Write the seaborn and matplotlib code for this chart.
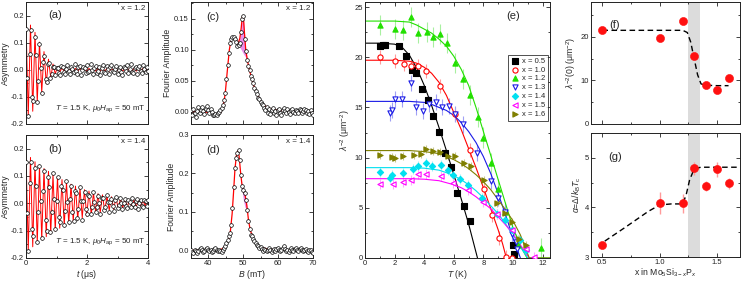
import numpy as np
import pandas as pd
import matplotlib
matplotlib.use("Agg")
import matplotlib.pyplot as plt
from matplotlib.ticker import MultipleLocator, FormatStrFormatter
import seaborn as sns

# ---------------- data: (a),(b) muSR time spectra ----------------
t_us = [0.00, 0.04, 0.08, 0.12, 0.16, 0.20, 0.24, 0.28, 0.32, 0.36, 0.40, 0.44, 0.48, 0.52, 0.56,
        0.60, 0.64, 0.68, 0.72, 0.76, 0.80, 0.84, 0.88, 0.92, 0.96, 1.00, 1.04, 1.08, 1.12, 1.16,
        1.20, 1.24, 1.28, 1.32, 1.36, 1.40, 1.44, 1.48, 1.52, 1.56, 1.60, 1.64, 1.68, 1.72, 1.76,
        1.80, 1.84, 1.88, 1.92, 1.96, 2.00, 2.04, 2.08, 2.12, 2.16, 2.20, 2.24, 2.28, 2.32, 2.36,
        2.40, 2.44, 2.48, 2.52, 2.56, 2.60, 2.64, 2.68, 2.72, 2.76, 2.80, 2.84, 2.88, 2.92, 2.96,
        3.00, 3.04, 3.08, 3.12, 3.16, 3.20, 3.24, 3.28, 3.32, 3.36, 3.40, 3.44, 3.48, 3.52, 3.56,
        3.60, 3.64, 3.68, 3.72, 3.76, 3.80, 3.84, 3.88, 3.92, 3.96, 4.00]
asym_a = [0.150, -0.030, -0.170, 0.060, 0.145, -0.100, -0.115, 0.120, 0.055, -0.120,
          -0.040, 0.095, 0.005, -0.085, 0.030, 0.050, -0.035, -0.045, 0.020, 0.025,
          -0.030, -0.015, 0.010, 0.012, -0.018, 0.005,
          0.008, -0.012, -0.020, 0.015, 0.010, -0.008, -0.015, 0.004, 0.018, -0.006,
          -0.016, 0.012, 0.003, -0.010, 0.020, -0.004, -0.014, 0.009, 0.013, -0.018,
          -0.002, 0.011, 0.006, -0.013, 0.016, -0.009, -0.005, 0.022, 0.001, -0.017,
          0.007, 0.014, -0.011, -0.003, 0.010, -0.020, 0.005, 0.017, -0.008, -0.012,
          0.013, 0.002, -0.015, 0.009, 0.019, -0.006, -0.010, 0.004, 0.015, -0.014,
          0.000, 0.011, -0.007, -0.019, 0.012, 0.006, -0.004, 0.016, -0.012, 0.003,
          0.021, -0.009, -0.013, 0.008, 0.010, -0.016, 0.005, 0.013, -0.003, -0.011,
          0.017, 0.002, -0.008, 0.012, -0.006]
asym_b = [0.150, -0.035, -0.175, 0.075, 0.150, -0.095, -0.120, 0.130, 0.065, -0.140,
          -0.030, 0.135, 0.008, -0.125, 0.045, 0.120, -0.060, -0.100, 0.095, 0.060,
          -0.105, -0.030, 0.110, 0.015, -0.095, 0.010, 0.095, -0.050, -0.070, 0.065,
          0.050, -0.078, -0.028, 0.082, 0.005, -0.070, 0.015, 0.062, -0.030, -0.065,
          0.045, 0.038, -0.055, -0.022, 0.058, 0.008, -0.060, 0.010, 0.042, -0.020,
          -0.038, 0.030, 0.028, -0.040, -0.015, 0.040, 0.005, -0.030, -0.012, 0.028,
          0.002, -0.038, 0.020, 0.018, -0.025, -0.012, 0.030, 0.004, -0.030, 0.006,
          0.016, -0.010, -0.028, 0.014, 0.024, -0.016, -0.006, 0.020, 0.002, -0.022,
          0.000, 0.015, -0.010, -0.018, 0.012, 0.006, -0.014, 0.020, -0.004, -0.012,
          0.010, 0.016, -0.020, 0.002, 0.013, -0.008, -0.015, 0.011, 0.007, -0.010,
          0.014]
asym_err = 0.008
fit_t_us = [0.000, 0.074, 0.147, 0.221, 0.295, 0.369, 0.442, 0.516, 0.590, 0.664, 0.737,
            0.811, 0.885, 0.959, 1.032, 1.106, 1.180, 1.254, 1.327, 1.401, 1.475, 1.549,
            1.622, 1.696, 1.770, 1.844, 1.917, 1.991, 2.065, 2.139, 2.212, 2.286, 2.360,
            2.434, 2.507, 2.581, 2.655, 2.729, 2.802, 2.876, 2.950, 3.024, 3.097, 3.171,
            3.245, 3.319, 3.392, 3.466, 3.540, 3.614, 3.687, 3.761, 3.835, 3.909, 3.982]
fit_a = [0.175, -0.172, 0.165, -0.153, 0.138, -0.120, 0.102, -0.084, 0.067, -0.052,
         0.039, -0.029, 0.021, -0.015, 0.011, -0.009, 0.007, -0.006, 0.005, -0.005,
         0.005, -0.005, 0.005, -0.005, 0.005, -0.005, 0.005, -0.005, 0.005, -0.005,
         0.005, -0.005, 0.005, -0.005, 0.005, -0.005, 0.005, -0.005, 0.005, -0.005,
         0.005, -0.005, 0.005, -0.005, 0.005, -0.005, 0.005, -0.005, 0.005, -0.005,
         0.005, -0.005, 0.005, -0.005, 0.005]
fit_b = [0.180, -0.174, 0.168, -0.159, 0.152, -0.146, 0.140, -0.133, 0.127, -0.122,
         0.117, -0.111, 0.106, -0.101, 0.096, -0.091, 0.087, -0.083, 0.079, -0.075,
         0.070, -0.066, 0.063, -0.060, 0.056, -0.053, 0.050, -0.047, 0.045, -0.042,
         0.039, -0.037, 0.035, -0.033, 0.031, -0.029, 0.027, -0.025, 0.024, -0.022,
         0.021, -0.020, 0.018, -0.017, 0.016, -0.015, 0.014, -0.013, 0.012, -0.012,
         0.011, -0.010, 0.010, -0.009, 0.009]

# ---------------- data: (c),(d) Fourier spectra ----------------
B_mT = [35.0, 35.35, 35.7, 36.05, 36.4, 36.75, 37.1, 37.45, 37.8, 38.15, 38.5, 38.85, 39.2,
        39.55, 39.9, 40.25, 40.6, 40.95, 41.3, 41.65, 42.0, 42.35, 42.7, 43.05, 43.4, 43.75,
        44.1, 44.45, 44.8, 45.15, 45.5, 45.85, 46.2, 46.55, 46.9, 47.25, 47.6, 47.95, 48.3,
        48.65, 49.0, 49.35, 49.7, 50.05, 50.4, 50.75, 51.1, 51.45, 51.8, 52.15, 52.5, 52.85,
        53.2, 53.55, 53.9, 54.25, 54.6, 54.95, 55.3, 55.65, 56.0, 56.35, 56.7, 57.05, 57.4,
        57.75, 58.1, 58.45, 58.8, 59.15, 59.5, 59.85, 60.2, 60.55, 60.9, 61.25, 61.6, 61.95,
        62.3, 62.65, 63.0, 63.35, 63.7, 64.05, 64.4, 64.75, 65.1, 65.45, 65.8, 66.15, 66.5,
        66.85, 67.2, 67.55, 67.9, 68.25, 68.6, 68.95, 69.3, 69.65, 70.0]
four_c = [0.002, -0.006, 0.004, -0.003, -0.008, 0.001, 0.007, -0.002, 0.003, 0.008,
          0.001, -0.004, 0.005, 0.009, 0.003, -0.002, 0.004, -0.001, -0.005, -0.006,
          -0.004, -0.005, -0.002, 0.000, 0.003, 0.006, 0.010, 0.018, 0.030, 0.052,
          0.075, 0.095, 0.110, 0.118, 0.121, 0.120, 0.118, 0.112, 0.106, 0.108,
          0.110, 0.128, 0.150, 0.155, 0.118, 0.098, 0.083, 0.074, 0.068, 0.058,
          0.052, 0.046, 0.038, 0.033, 0.028, 0.022, 0.020, 0.016, 0.012, 0.010,
          0.006, 0.003, 0.007, -0.002, 0.004, -0.004, 0.002, 0.006, -0.003, 0.001,
          -0.005, 0.003, 0.005, -0.002, -0.006, 0.002, 0.006, 0.001, -0.003, 0.004,
          -0.001, -0.004, 0.002, 0.005, 0.000, -0.003, 0.003, 0.001, -0.002, 0.004,
          0.002, -0.003, 0.001, 0.005, 0.002, -0.002, 0.001, -0.004, 0.002, -0.003,
          -0.006]
four_d = [0.002, -0.004, -0.008, 0.001, -0.003, -0.007, -0.002, 0.004, 0.007, 0.002,
          -0.004, -0.001, 0.003, 0.006, 0.001, -0.003, 0.002, -0.005, -0.002, 0.004,
          0.006, 0.000, -0.003, 0.002, -0.001, -0.004, 0.001, 0.006, 0.012, 0.018,
          0.026, 0.036, 0.045, 0.065, 0.110, 0.165, 0.215, 0.240, 0.252, 0.262,
          0.235, 0.195, 0.168, 0.158, 0.148, 0.132, 0.105, 0.075, 0.055, 0.040,
          0.036, 0.030, 0.024, 0.020, 0.014, 0.010, 0.006, 0.008, 0.003, -0.002,
          0.004, 0.001, -0.003, 0.002, 0.005, 0.000, -0.004, 0.001, 0.004, -0.002,
          0.003, 0.006, 0.001, -0.003, 0.002, 0.007, 0.010, 0.004, -0.002, 0.001,
          -0.004, 0.002, 0.005, 0.000, -0.003, 0.003, 0.006, 0.001, -0.002, 0.004,
          0.007, 0.002, -0.003, 0.001, 0.004, -0.002, -0.005, 0.002, 0.000, -0.004,
          -0.006]
fitB_c = [35, 38, 41, 42.5, 43.5, 44.2, 44.8, 45.4, 46, 46.5, 47, 47.5, 48, 48.5, 49, 49.4,
          49.7, 50.0, 50.3, 50.7, 51.2, 52, 53, 54, 55, 56, 58, 60, 63, 66, 70]
fit_c = [0.0, 0.0, -0.002, -0.004, -0.002, 0.008, 0.028, 0.065, 0.100, 0.116, 0.121, 0.120,
         0.114, 0.110, 0.118, 0.135, 0.152, 0.155, 0.130, 0.100, 0.082, 0.062, 0.042, 0.028,
         0.017, 0.010, 0.004, 0.002, 0.001, 0.0, 0.0]
fillB_c = [48.5, 49.0, 49.4, 49.7, 50.0, 50.3, 50.7, 51.2]
fill_top_c = [0.110, 0.118, 0.135, 0.152, 0.155, 0.130, 0.100, 0.082]
fill_bot_c = [0.110, 0.104, 0.100, 0.097, 0.094, 0.091, 0.088, 0.082]
fitB_d = [35, 38, 41, 43, 44, 45, 45.8, 46.3, 46.8, 47.2, 47.6, 48.0, 48.4, 48.8, 49.2, 49.6,
          50.0, 50.5, 51.0, 51.5, 52, 53, 54, 55, 57, 60, 65, 70]
fit_d = [0.0, 0.0, 0.0, 0.001, 0.004, 0.012, 0.028, 0.050, 0.095, 0.150, 0.210, 0.245,
         0.258, 0.245, 0.205, 0.172, 0.158, 0.145, 0.118, 0.078, 0.052, 0.028, 0.015, 0.008,
         0.003, 0.001, 0.0, 0.0]
fillB_d = [49.2, 49.6, 50.0, 50.5, 51.0]
fill_top_d = [0.205, 0.172, 0.158, 0.145, 0.118]
fill_bot_d = [0.205, 0.160, 0.132, 0.112, 0.110]

# ---------------- data: (e) superfluid density vs T ----------------
labels_e = ["x = 0.5", "x = 1.0", "x = 1.2", "x = 1.3", "x = 1.4", "x = 1.5", "x = 1.6"]
T05 = [1.0, 1.2, 1.35, 2.3, 2.75, 3.15, 3.45, 3.85, 4.25, 4.6, 5.0, 5.4, 5.8, 6.2, 6.7, 7.1, 10.0, 10.1]
L05 = [21.1, 21.2, 21.2, 21.1, 20.1, 18.7, 18.4, 16.8, 15.7, 14.1, 12.6, 10.5, 9.1, 6.5, 5.2, 3.7, 1.3, 0.4]
T10 = [1.0, 2.0, 2.65, 3.1, 3.6, 4.1, 5.1, 6.1, 7.1, 8.05, 8.55, 9.05, 9.55, 9.95]
L10 = [20.0, 19.6, 19.3, 19.1, 19.1, 18.6, 17.1, 14.3, 10.8, 6.9, 4.3, 2.0, 0.1, 0.0]
T12 = [1.0, 2.05, 2.6, 3.1, 3.6, 4.2, 4.6, 5.1, 5.55, 6.1, 6.65, 7.1, 7.65, 8.0, 8.5, 9.0, 9.45, 10.35, 11.9]
L12 = [23.2, 22.8, 22.7, 24.0, 22.4, 22.5, 22.0, 22.3, 21.4, 19.4, 17.8, 16.2, 14.0, 12.0, 9.5, 6.9, 4.6, 1.3, 1.0]
T13 = [1.7, 1.8, 2.0, 2.5, 3.1, 3.45, 3.9, 4.35, 4.8, 5.2, 5.65, 6.1, 6.6, 7.6, 8.5, 9.0, 9.45, 9.95, 10.2, 10.3]
L13 = [14.4, 14.7, 15.8, 15.8, 17.4, 15.0, 14.6, 15.3, 15.5, 15.0, 15.1, 14.3, 13.3, 10.5, 7.7, 6.0, 4.6, 2.4, 1.6, 0.9]
T14 = [1.0, 1.7, 1.85, 2.55, 3.25, 3.6, 4.1, 4.55, 5.15, 5.6, 5.95, 6.45, 6.95, 7.9, 8.95, 9.45, 9.95, 10.45, 10.85]
L14 = [8.6, 8.0, 8.3, 8.5, 8.9, 9.2, 9.5, 9.2, 9.3, 8.8, 8.3, 7.9, 7.3, 6.0, 4.4, 3.8, 2.8, 1.8, 0.8]
T15 = [1.0, 1.9, 2.6, 3.1, 3.6, 4.15, 5.15, 5.95, 6.95, 7.95, 8.9, 9.9, 10.9, 11.4]
L15 = [7.4, 7.4, 7.6, 7.8, 8.4, 8.4, 8.2, 7.5, 6.8, 5.6, 4.4, 2.8, 0.9, 0.1]
T16 = [1.0, 1.8, 2.0, 2.6, 3.3, 3.75, 4.1, 4.6, 5.1, 5.6, 6.1, 6.7, 7.15, 8.05, 8.95, 9.45, 9.95, 10.4, 10.85]
L16 = [10.3, 10.1, 10.0, 10.2, 10.3, 10.4, 10.9, 10.7, 10.6, 10.2, 10.2, 9.5, 9.2, 7.8, 5.5, 4.5, 3.6, 1.9, 1.3]
err_e = [0.3, 0.7, 1.0, 0.8, 0.5, 0.5, 0.4]

fitT05 = [0, 1, 2, 2.5, 3, 3.5, 4, 4.5, 5, 5.5, 6, 6.5, 7, 7.6]
fitL05 = [21.4, 21.4, 21.3, 21.0, 20.2, 18.9, 17.2, 15.2, 13.0, 10.7, 8.3, 5.9, 3.4, 0.0]
fitT10 = [0, 1, 2, 3, 3.5, 4, 4.5, 5, 5.5, 6, 6.5, 7, 7.5, 8, 8.5, 9, 9.3, 9.55]
fitL10 = [19.7, 19.7, 19.7, 19.6, 19.4, 19.0, 18.4, 17.5, 16.2, 14.5, 12.8, 10.9, 9.0, 7.0, 4.9, 2.8, 1.4, 0.0]
fitT12 = [0, 1, 2, 3, 3.5, 4, 4.5, 5, 5.5, 6, 6.5, 7, 7.5, 8, 8.5, 9, 9.5, 10, 10.5, 10.95, 12.5]
fitL12 = [23.6, 23.6, 23.6, 23.5, 23.2, 22.8, 22.4, 21.8, 21.1, 20.1, 18.8, 17.2, 15.0, 12.6, 10.2, 7.8, 5.4, 3.0, 1.2, 0.0, 0.0]
fitT13 = [0, 1, 2, 3, 4, 4.5, 5, 5.5, 6, 6.5, 7, 7.5, 8, 8.5, 9, 9.5, 10, 10.5]
fitL13 = [15.6, 15.6, 15.6, 15.6, 15.5, 15.3, 15.0, 14.7, 14.2, 13.5, 12.6, 11.5, 10.1, 8.4, 6.4, 4.3, 2.0, 0.0]
fitT14 = [0, 2, 3, 4, 5, 5.5, 6, 6.5, 7, 7.5, 8, 8.5, 9, 9.5, 10, 10.5, 11.0]
fitL14 = [9.0, 9.0, 9.0, 8.95, 8.75, 8.5, 8.2, 7.8, 7.3, 6.7, 6.0, 5.2, 4.4, 3.4, 2.3, 1.1, 0.0]
fitT15 = [0, 2, 3, 4, 5, 5.5, 6, 6.5, 7, 7.5, 8, 8.5, 9, 9.5, 10, 10.5, 11.1]
fitL15 = [7.9, 7.9, 7.9, 7.85, 7.7, 7.5, 7.3, 7.0, 6.6, 6.1, 5.5, 4.9, 4.1, 3.3, 2.4, 1.3, 0.0]
fitT16 = [0, 2, 3, 4, 5, 5.5, 6, 6.5, 7, 7.5, 8, 8.5, 9, 9.5, 10, 10.5, 11.1, 12.5]
fitL16 = [10.7, 10.7, 10.7, 10.6, 10.4, 10.1, 9.8, 9.4, 8.9, 8.3, 7.6, 6.8, 5.8, 4.8, 3.7, 2.3, 0.0, 0.0]

# ---------------- data: (f),(g) vs composition ----------------
x_comp = [0.5, 1.0, 1.2, 1.3, 1.4, 1.5, 1.6]
lam0 = [21.5, 19.8, 23.7, 15.6, 8.9, 7.9, 10.6]
alpha = [3.24, 4.09, 4.08, 4.79, 4.44, 4.77, 4.49]
alpha_err = [0.02, 0.22, 0.20, 0.13, 0.10, 0.15, 0.11]
xf_line = [0.5, 0.8, 1.0, 1.2, 1.24, 1.27, 1.30, 1.33, 1.36, 1.40, 1.50, 1.60]
yf_line = [21.5, 21.5, 21.5, 21.5, 21.0, 18.8, 15.0, 11.3, 9.2, 8.9, 8.8, 8.8]
xg_line = [0.52, 0.7, 0.9, 1.0, 1.1, 1.2, 1.23, 1.26, 1.29, 1.32, 1.36, 1.45, 1.6, 1.71]
yg_line = [3.32, 3.60, 3.92, 4.05, 4.07, 4.07, 4.25, 4.55, 4.72, 4.79, 4.81, 4.81, 4.81, 4.81]
band = [1.25, 1.35]

# ---------------- style ----------------
sns.set_theme(style="ticks")
plt.rcParams['font.family'] = ['Liberation Sans', 'DejaVu Sans']
plt.rcParams['mathtext.fontset'] = 'custom'
plt.rcParams['mathtext.rm'] = 'Liberation Sans'
plt.rcParams['mathtext.it'] = 'Liberation Sans:italic'
plt.rcParams['mathtext.bf'] = 'Liberation Sans:bold'
plt.rcParams['axes.unicode_minus'] = False
plt.rcParams['axes.linewidth'] = 0.7
plt.rcParams['axes.edgecolor'] = '#222222'

W, H = 747, 282
fig = plt.figure(figsize=(W / 100, H / 100), dpi=100, facecolor='white')


def mkax(l, t, r, b):
    return fig.add_axes([l / W, 1 - b / H, (r - l) / W, (b - t) / H])


def style(ax, xmaj, xmin, ymaj, ymin):
    ax.xaxis.set_major_locator(MultipleLocator(xmaj))
    ax.xaxis.set_minor_locator(MultipleLocator(xmin))
    ax.yaxis.set_major_locator(MultipleLocator(ymaj))
    ax.yaxis.set_minor_locator(MultipleLocator(ymin))
    ax.tick_params(which='both', direction='in', top=True, right=True, width=0.6,
                   labelsize=5.5, pad=1.5, colors='#222222')
    ax.tick_params(which='major', length=2.8)
    ax.tick_params(which='minor', length=1.6)
    ax.set_facecolor('white')


FS_LAB = 6.2
FS_TXT = 5.8

ax_a = mkax(26, 2, 148, 124)
ax_b = mkax(26, 135, 148, 258)
ax_c = mkax(191, 2, 313, 124)
ax_d = mkax(191, 135, 313, 258)
ax_e = mkax(365, 2, 550, 258)
ax_f = mkax(591, 2, 740, 124)
ax_g = mkax(591, 133, 740, 257)

# ---- (a), (b)
for ax, asym, fit, lab, xv in [(ax_a, asym_a, fit_a, "(a)", "x = 1.2"),
                               (ax_b, asym_b, fit_b, "(b)", "x = 1.4")]:
    ax.errorbar(t_us, asym, yerr=asym_err, fmt='none', ecolor='#b0b0b0', elinewidth=0.5, zorder=1)
    sns.lineplot(x=fit_t_us, y=fit, sort=False, estimator=None, ax=ax, color='red', lw=0.7, zorder=2)
    sns.scatterplot(x=t_us, y=asym, ax=ax, marker='o', s=7, color='white',
                    edgecolor='black', linewidth=0.5, zorder=3)
    ax.set_xlim(0, 4)
    ax.set_ylim(-0.2, 0.25)
    style(ax, 2, 1, 0.1, 0.05)
    ax.yaxis.set_major_formatter(FormatStrFormatter('%.1f'))
    ax.set_ylabel("Asymmetry", fontsize=FS_LAB, labelpad=1)
    ax.text(0.24, 0.89, lab, transform=ax.transAxes, fontsize=8, ha='center', va='center')
    ax.text(0.98, 0.95, xv, transform=ax.transAxes, fontsize=FS_TXT, ha='right', va='center')
    ax.text(0.985, 0.13, r"$T$ = 1.5 K, $\mu_0H_{\rm ap}$ = 50 mT", transform=ax.transAxes,
            fontsize=FS_TXT, ha='right', va='center')
ax_a.set_xticklabels([])
ax_a.set_xlabel("")
ax_b.set_xlabel(r"$t$ (μs)", fontsize=FS_LAB, labelpad=0.5)

# ---- (c), (d)
for ax, four, fB, fv, flB, ftop, fbot, lab, xv in [
        (ax_c, four_c, fitB_c, fit_c, fillB_c, fill_top_c, fill_bot_c, "(c)", "x = 1.2"),
        (ax_d, four_d, fitB_d, fit_d, fillB_d, fill_top_d, fill_bot_d, "(d)", "x = 1.4")]:
    ax.fill_between(flB, fbot, ftop, color='#e050e0', alpha=0.65, lw=0, zorder=1)
    sns.lineplot(x=fB, y=fv, sort=False, estimator=None, ax=ax, color='red', lw=0.9, zorder=2)
    sns.scatterplot(x=B_mT, y=four, ax=ax, marker='o', s=7, color='white',
                    edgecolor='black', linewidth=0.5, zorder=3)
    ax.set_xlim(35, 70)
    ax.set_ylabel("Fourier Amplitude", fontsize=FS_LAB, labelpad=1.5)
    ax.text(0.18, 0.88, lab, transform=ax.transAxes, fontsize=8, ha='center', va='center')
    ax.text(0.98, 0.95, xv, transform=ax.transAxes, fontsize=FS_TXT, ha='right', va='center')
ax_c.set_ylim(-0.02, 0.177)
style(ax_c, 10, 5, 0.05, 0.025)
ax_c.yaxis.set_major_formatter(FormatStrFormatter('%.2f'))
ax_c.set_xticklabels([])
ax_d.set_ylim(-0.02, 0.3)
style(ax_d, 10, 5, 0.1, 0.05)
ax_d.yaxis.set_major_formatter(FormatStrFormatter('%.1f'))
ax_d.set_xlabel(r"$B$ (mT)", fontsize=FS_LAB, labelpad=0.5)

# ---- (e)
series_e = [
    (T05, L05, fitT05, fitL05, 's', 'black', 'black', '#9a9a9a'),
    (T10, L10, fitT10, fitL10, 'o', 'white', '#ff0000', '#ff9a9a'),
    (T12, L12, fitT12, fitL12, '^', '#22e000', '#22e000', '#a8f0a0'),
    (T13, L13, fitT13, fitL13, 'v', 'white', '#1a1ae6', '#a0a0f5'),
    (T14, L14, fitT14, fitL14, 'D', '#00e0f0', '#00e0f0', '#a0f2f8'),
    (T15, L15, fitT15, fitL15, '<', 'white', '#ff00ff', '#ffa8ff'),
    (T16, L16, fitT16, fitL16, '>', '#7f7f00', '#7f7f00', '#c8c890'),
]
for (T, L, fT, fL, mk, fc, ec, lc), lab, er in zip(series_e, labels_e, err_e):
    ax_e.errorbar(T, L, yerr=er, fmt='none', ecolor=lc, elinewidth=0.8, zorder=1)
    sns.lineplot(x=fT, y=fL, sort=False, estimator=None, ax=ax_e, color=ec, lw=0.8, zorder=2)
for (T, L, fT, fL, mk, fc, ec, lc), lab in zip(series_e, labels_e):
    s = 10 if mk == 'D' else 14
    sns.scatterplot(x=T, y=L, ax=ax_e, marker=mk, s=s, color=fc, edgecolor=ec,
                    linewidth=0.8, zorder=3, label=lab)
ax_e.set_xlim(0, 12.5)
ax_e.set_ylim(0, 25.5)
style(ax_e, 2, 1, 5, 2.5)
ax_e.set_xlabel(r"$T$ (K)", fontsize=FS_LAB, labelpad=0.5)
ax_e.set_ylabel(r"$\lambda^{-2}$ (μm$^{-2}$)", fontsize=FS_LAB, labelpad=1.5)
ax_e.text(0.80, 0.945, "(e)", transform=ax_e.transAxes, fontsize=8, ha='center', va='center')
leg = ax_e.legend(loc='upper right', bbox_to_anchor=(0.995, 0.80), fontsize=5.5, frameon=True,
                  fancybox=False, edgecolor='black', borderpad=0.35, labelspacing=0.2,
                  handletextpad=0.4, handlelength=1.0, borderaxespad=0.2)
leg.get_frame().set_linewidth(0.6)

# ---- (f), (g)
for ax in (ax_f, ax_g):
    ax.axvspan(band[0], band[1], color='#dcdcdc', lw=0, zorder=0)
    ax.set_xlim(0.4, 1.7)

sns.lineplot(x=xf_line, y=yf_line, sort=False, estimator=None, ax=ax_f, color='black',
             lw=1.0, dashes=(4, 2.5), zorder=2)
sns.scatterplot(x=x_comp, y=lam0, ax=ax_f, marker='o', s=34, color='#ff1010',
                edgecolor='#ff1010', linewidth=0.4, zorder=3)
ax_f.set_ylim(0, 28)
style(ax_f, 0.5, 0.25, 10, 5)
ax_f.set_xticklabels([])
ax_f.set_ylabel(r"$\lambda^{-2}$(0) (μm$^{-2}$)", fontsize=FS_LAB, labelpad=1.5)
ax_f.text(0.16, 0.81, "(f)", transform=ax_f.transAxes, fontsize=8, ha='center', va='center')

ax_g.errorbar(x_comp, alpha, yerr=alpha_err, fmt='none', ecolor='#ff9a9a', elinewidth=1.0, zorder=1)
sns.lineplot(x=xg_line, y=yg_line, sort=False, estimator=None, ax=ax_g, color='black',
             lw=1.0, dashes=(4, 2.5), zorder=2)
sns.scatterplot(x=x_comp, y=alpha, ax=ax_g, marker='o', s=34, color='#ff1010',
                edgecolor='#ff1010', linewidth=0.4, zorder=3)
ax_g.set_ylim(3, 5.5)
style(ax_g, 0.5, 0.25, 1, 0.5)
ax_g.xaxis.set_major_formatter(FormatStrFormatter('%.1f'))
ax_g.set_ylabel(r"$\alpha$=$\Delta$/$k_{\rm B}T_{\rm c}$", fontsize=FS_LAB, labelpad=1.5)
ax_g.set_xlabel(r"x in Mo$_5$Si$_{3-x}$P$_x$", fontsize=FS_LAB, labelpad=0.5)
ax_g.text(0.16, 0.81, "(g)", transform=ax_g.transAxes, fontsize=8, ha='center', va='center')

fig.savefig("out.png", dpi=100, facecolor='white')
